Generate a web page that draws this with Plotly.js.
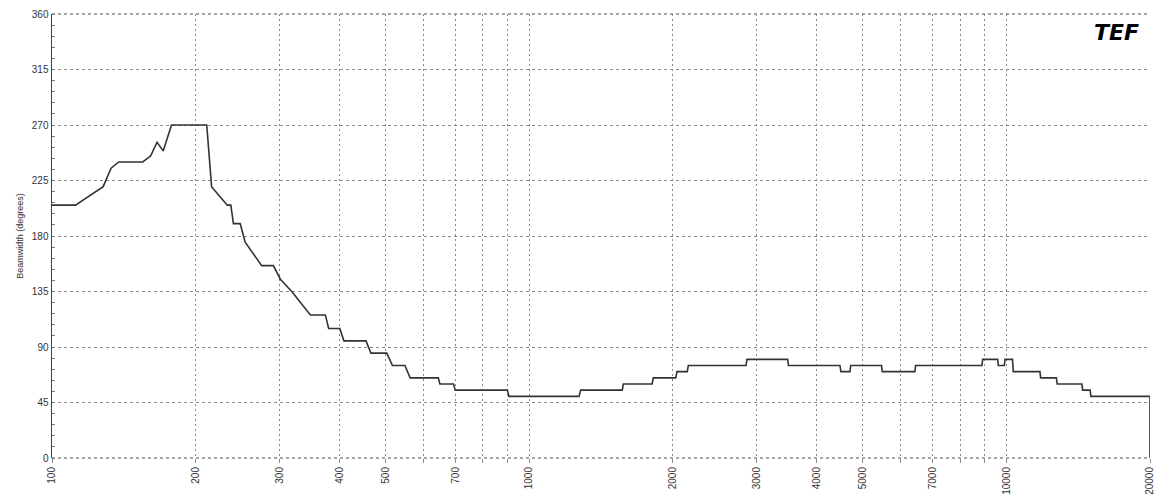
<!DOCTYPE html>
<html>
<head>
<meta charset="utf-8">
<script src="https://cdn.plot.ly/plotly-3.0.1.min.js"></script>
<style>html,body{margin:0;padding:0;background:#fff;}#chart{width:1156px;height:498px;}</style>
</head>
<body>
<div id="chart"></div>
<script>
// Frequency (Hz) and beamwidth (degrees)
const freqHz = [100,112,128,133,138,155,161,166,171,178,211,216,233,237,240,248,254,275,291,301,318,334,348,374,380,401,409,455,466,503,517,549,563,645,650,694,700,900,907,1272,1282,1567,1575,1810,1820,2029,2040,2145,2155,2847,2860,3480,3495,4480,4500,4700,4720,5474,5495,6430,6455,8888,8920,9590,9620,9905,9935,10300,10340,11760,11800,12730,12780,14400,14450,14980,15040,20000,20000];
const beamDeg = [205,205,220,235,240,240,245,256,249,270,270,220,205,205,190,190,175,156,156,145,135,125,116,116,105,105,95,95,85,85,75,75,65,65,60,60,55,55,50,50,55,55,60,60,65,65,70,70,75,75,80,80,75,75,70,70,75,75,70,70,75,75,80,80,75,75,80,80,70,70,65,65,60,60,55,55,50,50,0];

const xGridVals = [100,200,300,400,500,600,700,800,900,1000,2000,3000,4000,5000,6000,7000,8000,9000,10000,20000];
const xTickText = ['100','200','300','400','500','','700','','','1000','2000','3000','4000','5000','','7000','','','10000','20000'];
const yTickVals = [0,45,90,135,180,225,270,315,360];

const trace = {
  x: freqHz, y: beamDeg, type: 'scatter', mode: 'lines',
  line: {color: '#333333', width: 1.6},
  hoverinfo: 'skip'
};

const borderStyle = {color: '#888', width: 1.5, dash: '3px,3px'};

const layout = {
  width: 1156, height: 498,
  margin: {l: 52, r: 6, t: 14, b: 40},
  paper_bgcolor: '#ffffff', plot_bgcolor: '#ffffff',
  showlegend: false,
  font: {family: 'Liberation Sans, Arial, sans-serif', size: 10, color: '#333'},
  xaxis: {
    type: 'log',
    range: [Math.log10(100), Math.log10(20000)],
    tickmode: 'array', tickvals: xGridVals, ticktext: xTickText,
    tickangle: -90,
    ticks: 'outside', ticklen: 4, tickcolor: '#888', tickwidth: 1,
    showgrid: true, gridcolor: '#8a8a8a', gridwidth: 1, griddash: '2px,3px',
    showline: false, zeroline: false,
    tickfont: {size: 10, color: '#333'}
  },
  yaxis: {
    range: [0, 360],
    tickmode: 'array', tickvals: yTickVals,
    ticks: '',
    showgrid: true, gridcolor: '#8a8a8a', gridwidth: 1, griddash: '3px,3px',
    showline: true, linecolor: '#444', linewidth: 1.5,
    zeroline: false,
    minor: {dtick: 9, ticks: 'inside', ticklen: 3, tickcolor: '#777', showgrid: false},
    tickfont: {size: 10, color: '#333'},
    title: {text: 'Beamwidth (degrees)', font: {size: 9, color: '#333'}, standoff: 6}
  },
  shapes: [
    {type: 'line', xref: 'paper', yref: 'paper', x0: 0, x1: 1, y0: 1, y1: 1, line: borderStyle},
    {type: 'line', xref: 'paper', yref: 'paper', x0: 0, x1: 1, y0: 0, y1: 0, line: borderStyle, layer: 'below'}
  ],
  annotations: [{
    xref: 'paper', yref: 'paper', x: 0.992, y: 0.99, xanchor: 'right', yanchor: 'top',
    text: '<b><i>TEF</i></b>', showarrow: false,
    font: {family: 'DejaVu Sans, sans-serif', size: 22, color: '#000'}
  }]
};

Plotly.newPlot('chart', [trace], layout, {staticPlot: true, displayModeBar: false});
</script>
</body>
</html>
